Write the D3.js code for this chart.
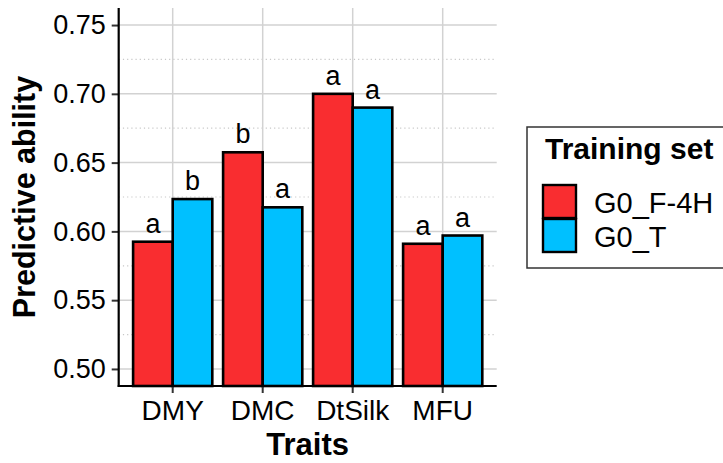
<!DOCTYPE html>
<html>
<head>
<meta charset="utf-8">
<script src="https://cdn.jsdelivr.net/npm/d3@7"></script>
<style>
  body { margin: 0; background: #fff; }
  svg { display: block; font-family: "Liberation Sans", Arial, sans-serif; }
</style>
</head>
<body>
<div id="chart"></div>
<script>
const traits = ["DMY", "DMC", "DtSilk", "MFU"];
const seriesNames = ["G0_F-4H", "G0_T"];
const seriesColors = ["#F92D30", "#00C0FF"];
const valuesF4H = [0.5925, 0.6575, 0.700, 0.5910];
const valuesT = [0.6235, 0.6175, 0.690, 0.5970];
const lettersF4H = ["a", "b", "a", "a"];
const lettersT = ["b", "a", "a", "a"];
const yTicks = [0.50, 0.55, 0.60, 0.65, 0.70, 0.75];
const yMinor = [0.525, 0.575, 0.625, 0.675, 0.725];

function drawChart() {
    // panel box
    const panel = { left: 118.7, right: 496.7, top: 8, bottom: 386 };

    const svg = d3.select("#chart").append("svg")
        .attr("width", 723)
        .attr("height", 463);

    // scales
    const x = d3.scaleBand()
        .domain(traits)
        .range([panel.left, panel.right])
        .paddingInner(0)
        .paddingOuter(0.1);

    const dodge = x.step() * 0.88;
    const x1 = d3.scaleBand()
        .domain(seriesNames)
        .range([0, dodge]);

    const y = d3.scaleLinear()
        .domain([0.4876, 0.7624])
        .range([panel.bottom, panel.top]);

    const rows = traits.map((t, i) => ({
        trait: t,
        items: [
            { s: seriesNames[0], v: valuesF4H[i], l: lettersF4H[i], c: seriesColors[0] },
            { s: seriesNames[1], v: valuesT[i], l: lettersT[i], c: seriesColors[1] }
        ]
    }));

    // grid: minor dotted, major solid
    svg.append("g").selectAll("line")
        .data(yMinor)
        .enter().append("line")
        .attr("x1", panel.left).attr("x2", panel.right)
        .attr("y1", d => y(d)).attr("y2", d => y(d))
        .attr("stroke", "#c8c8c8")
        .attr("stroke-width", 1.2)
        .attr("stroke-dasharray", "1.2,3");

    svg.append("g").selectAll("line")
        .data(yTicks)
        .enter().append("line")
        .attr("x1", panel.left).attr("x2", panel.right)
        .attr("y1", d => y(d)).attr("y2", d => y(d))
        .attr("stroke", "#d2d2d2")
        .attr("stroke-width", 1.5);

    svg.append("g").selectAll("line")
        .data(traits)
        .enter().append("line")
        .attr("x1", d => x(d) + x.bandwidth() / 2)
        .attr("x2", d => x(d) + x.bandwidth() / 2)
        .attr("y1", panel.top).attr("y2", panel.bottom)
        .attr("stroke", "#d2d2d2")
        .attr("stroke-width", 1.5);

    // bars
    const groups = svg.append("g").selectAll("g")
        .data(rows)
        .enter().append("g")
        .attr("transform", d => `translate(${x(d.trait) + x.bandwidth() / 2 - dodge / 2},0)`);

    groups.selectAll("rect")
        .data(d => d.items)
        .enter().append("rect")
        .attr("x", d => x1(d.s))
        .attr("width", x1.bandwidth())
        .attr("y", d => y(d.v))
        .attr("height", d => panel.bottom - y(d.v))
        .attr("fill", d => d.c)
        .attr("stroke", "#000")
        .attr("stroke-width", 2.6);

    groups.selectAll("text")
        .data(d => d.items)
        .enter().append("text")
        .attr("x", d => x1(d.s) + x1.bandwidth() / 2)
        .attr("y", d => y(d.v) - 9)
        .attr("text-anchor", "middle")
        .attr("font-size", 27)
        .attr("fill", "#000")
        .text(d => d.l);

    // y axis
    const yAxis = svg.append("g")
        .attr("transform", `translate(${panel.left},0)`)
        .call(d3.axisLeft(y).tickValues(yTicks).tickFormat(d3.format(".2f")).tickSize(7).tickPadding(6));
    yAxis.select(".domain").remove();
    yAxis.selectAll(".tick line").attr("stroke", "#333").attr("stroke-width", 2);
    yAxis.selectAll(".tick text").attr("font-size", 27).attr("fill", "#000")
        .attr("font-family", "Liberation Sans, Arial, sans-serif");

    // x axis
    const xAxis = svg.append("g")
        .attr("transform", `translate(0,${panel.bottom})`)
        .call(d3.axisBottom(x).tickSize(7).tickPadding(7));
    xAxis.select(".domain").remove();
    xAxis.selectAll(".tick line").attr("stroke", "#333").attr("stroke-width", 2);
    xAxis.selectAll(".tick text").attr("font-size", 28).attr("fill", "#000")
        .attr("font-family", "Liberation Sans, Arial, sans-serif");

    // axis lines
    svg.append("line")
        .attr("x1", panel.left).attr("x2", panel.left)
        .attr("y1", panel.top).attr("y2", panel.bottom + 1)
        .attr("stroke", "#000").attr("stroke-width", 2.2);
    svg.append("line")
        .attr("x1", panel.left - 1).attr("x2", panel.right)
        .attr("y1", panel.bottom).attr("y2", panel.bottom)
        .attr("stroke", "#000").attr("stroke-width", 2.2);

    // axis titles
    svg.append("text")
        .attr("x", (panel.left + panel.right) / 2)
        .attr("y", 455)
        .attr("text-anchor", "middle")
        .attr("font-size", 31)
        .attr("font-weight", "bold")
        .text("Traits");

    svg.append("text")
        .attr("transform", `translate(35,${(panel.top + panel.bottom) / 2}) rotate(-90)`)
        .attr("text-anchor", "middle")
        .attr("font-size", 30.5)
        .attr("font-weight", "bold")
        .text("Predictive ability");

    // legend
    const legend = svg.append("g");
    legend.append("rect")
        .attr("x", 527).attr("y", 127)
        .attr("width", 220).attr("height", 141)
        .attr("fill", "#fff")
        .attr("stroke", "#333")
        .attr("stroke-width", 1.5);
    legend.append("text")
        .attr("x", 545).attr("y", 159)
        .attr("font-size", 30)
        .attr("font-weight", "bold")
        .text("Training set");

    const key = legend.selectAll("g.key")
        .data(seriesNames)
        .enter().append("g")
        .attr("class", "key")
        .attr("transform", (d, i) => `translate(543,${185 + i * 34})`);
    key.append("rect")
        .attr("width", 33).attr("height", 33)
        .attr("fill", (d, i) => seriesColors[i])
        .attr("stroke", "#000")
        .attr("stroke-width", 2.4);
    key.append("text")
        .attr("x", 51).attr("y", 28)
        .attr("font-size", 29)
        .text(d => d);
}

drawChart();
</script>
</body>
</html>
